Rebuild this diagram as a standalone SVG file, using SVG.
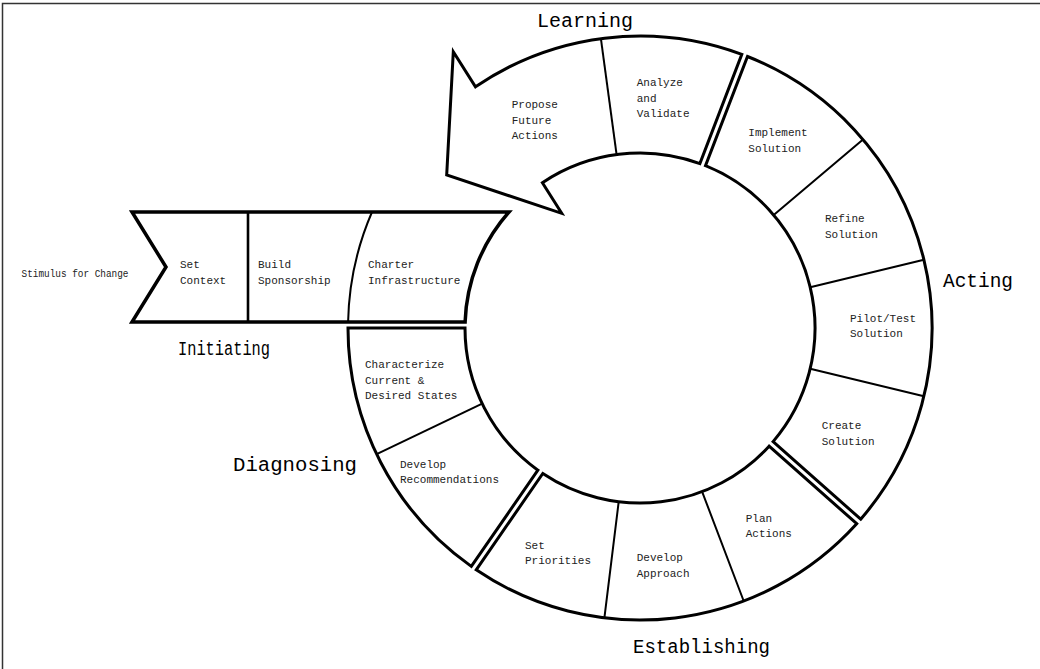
<svg xmlns="http://www.w3.org/2000/svg" width="1040" height="669" viewBox="0 0 1040 669">
<style>
.phase{fill:#fff;stroke:#000;stroke-width:3;stroke-linejoin:miter}
.div{fill:none;stroke:#000;stroke-width:2}
.t{font-family:"Liberation Mono",monospace;font-size:11px;fill:#222}
.big{font-family:"Liberation Mono",monospace;font-size:20px;fill:#000}
</style>
<rect width="1040" height="669" fill="#fff"/>
<path d="M2.5 669 V3.5 H1040" fill="none" stroke="#333" stroke-width="1.5"/>

<g id="initiating">
<path class="phase" d="M132 212 L509 212 A175 175 0 0 0 465.1 322 L132 322 L166 267 Z" style="stroke-width:3.5"/>
<path class="div" d="M248 212 V322" style="stroke-width:2.6"/>
<path class="div" d="M372 212 A292 292 0 0 0 348.1 322"/>
<text class="t" x="180" y="268">Set</text><text class="t" x="180" y="284">Context</text>
<text class="t" x="258" y="268">Build</text><text class="t" x="258" y="284">Sponsorship</text>
<text class="t" x="368" y="268">Charter</text><text class="t" x="368" y="284">Infrastructure</text>
</g>
<text id="stimulus" class="t" x="21.5" y="277" style="font-size:10.5px" textLength="107" lengthAdjust="spacingAndGlyphs">Stimulus for Change</text>
<text id="lbl-initiating" class="big" x="178" y="355" textLength="92" lengthAdjust="spacingAndGlyphs">Initiating</text>

<g id="learning">
<path class="phase" d="M475.5 86.8 A292 292 0 0 1 741.8 54.3 L699.9 163.6 A175 175 0 0 0 542.4 182.7 L561.7 213.3 L446.7 175 L453.3 51.7 Z"/>
<path class="div" d="M600.9 38.6 L616.6 154.6"/>
<text class="t" x="511.7" y="108.3">Propose</text><text class="t" x="511.7" y="124">Future</text><text class="t" x="511.7" y="139">Actions</text>
<text class="t" x="636.7" y="86">Analyze</text><text class="t" x="636.7" y="101.7">and</text><text class="t" x="636.7" y="116.7">Validate</text>
</g>
<text id="lbl-learning" class="big" x="537" y="27" textLength="96" lengthAdjust="spacingAndGlyphs">Learning</text>

<g id="acting">
<path class="phase" d="M747.5 56.5 A292 292 0 0 1 860.7 519.2 L773.1 441.6 A175 175 0 0 0 705.5 165.7 Z"/>
<path class="div" d="M863 139.5 L773.7 215 M923.9 259.8 L810.2 287.2 M923.9 396.2 L810.2 368.8"/>
<text class="t" x="748.3" y="136">Implement</text><text class="t" x="748.3" y="151.7">Solution</text>
<text class="t" x="825" y="222.3">Refine</text><text class="t" x="825" y="237.7">Solution</text>
<text class="t" x="850" y="321.7">Pilot/Test</text><text class="t" x="850" y="336.7">Solution</text>
<text class="t" x="821.7" y="429.3">Create</text><text class="t" x="821.7" y="445">Solution</text>
</g>
<text id="lbl-acting" class="big" x="943" y="287" textLength="70" lengthAdjust="spacingAndGlyphs">Acting</text>

<g id="establishing">
<path class="phase" d="M856.7 523.7 A292 292 0 0 1 476.2 569.8 L542.8 473.5 A175 175 0 0 0 769.1 446.2 Z"/>
<path class="div" d="M743.7 601 L702.1 491.6 M604.4 617.8 L618.7 501.7"/>
<text class="t" x="745.7" y="521.7">Plan</text><text class="t" x="745.7" y="536.7">Actions</text>
<text class="t" x="636.7" y="560.7">Develop</text><text class="t" x="636.7" y="576.7">Approach</text>
<text class="t" x="525" y="549">Set</text><text class="t" x="525" y="564">Priorities</text>
</g>
<text id="lbl-establishing" class="big" x="633" y="653" textLength="137" lengthAdjust="spacingAndGlyphs">Establishing</text>

<g id="diagnosing">
<path class="phase" d="M471.3 566.4 A292 292 0 0 1 348 328 L465 328 A175 175 0 0 0 537.9 470.2 Z"/>
<path class="div" d="M376.7 454.2 L482.2 403.6"/>
<text class="t" x="400" y="468.3">Develop</text><text class="t" x="400" y="482.7">Recommendations</text>
<text class="t" x="365" y="368.3">Characterize</text><text class="t" x="365" y="384">Current &amp;</text><text class="t" x="365" y="399.3">Desired States</text>
</g>
<text id="lbl-diagnosing" class="big" x="233" y="471" textLength="124" lengthAdjust="spacingAndGlyphs">Diagnosing</text>
</svg>
